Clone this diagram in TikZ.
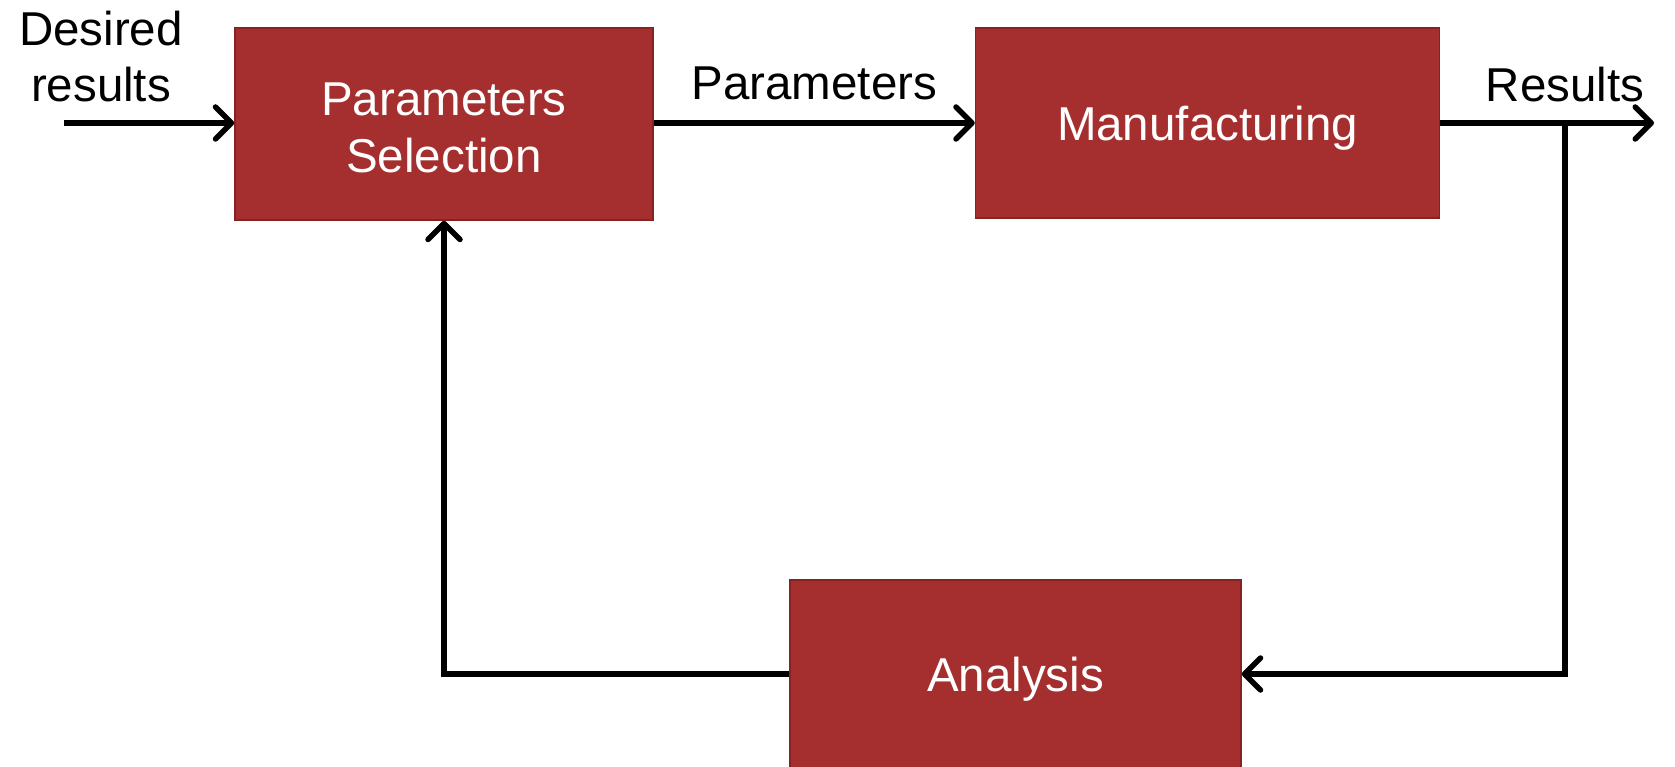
\documentclass[tikz,border=0pt]{standalone}
\usepackage{fontspec}
\setmainfont{Liberation Sans}
\usetikzlibrary{positioning, arrows.meta}
\definecolor{boxred}{HTML}{A52F2E}
\definecolor{boxedge}{HTML}{86221F}
\tikzstyle{block} = [rectangle, draw=boxedge, line width=1.5pt, fill=boxred, text=white, align=center, inner sep=0pt, text height=45pt, text depth=10pt, font=\fontsize{47.5}{57}\selectfont]
\tikzstyle{lbl} = [align=center, inner sep=4pt, font=\fontsize{47.5}{56}\selectfont]
\tikzstyle{arrow} = [line width=5.5pt, -{Straight Barb[length=16pt, width=32pt, line cap=round, line join=round]}]
\begin{document}
\begin{tikzpicture}[x=1pt, y=-1pt]
    \useasboundingbox (0,0) rectangle (1675,767);
    \node (1) [block, minimum width=418pt, minimum height=192pt, text height=98pt, text depth=0pt] at (444,124)
      {Parameters\\Selection};
    \node (2) [block, minimum width=464pt, minimum height=190pt, right=321pt of 1, yshift=1pt]
      {Manufacturing};
    \node (3) [block, minimum width=451pt, minimum height=188pt] at (1015.5,674)
      {Analysis};
    \node (in) [lbl] at (101,57) {Desired\\results};
    \coordinate (start) at (64,123);
    \coordinate (out) at (1654,123);
    \coordinate (branch) at (1565,123);
    \draw [arrow] (start) -- (1.west |- start);
    \draw [arrow] (1.east |- start) -- node[lbl, above=16pt] {Parameters} (2.west |- start);
    \draw [arrow] (2.east |- start) -- (out);
    \node [lbl, above=17pt] at (branch) {Results};
    \draw [arrow] (branch) |- (3);
    \draw [arrow] (3) -| (1);
  \end{tikzpicture}
\end{document}
